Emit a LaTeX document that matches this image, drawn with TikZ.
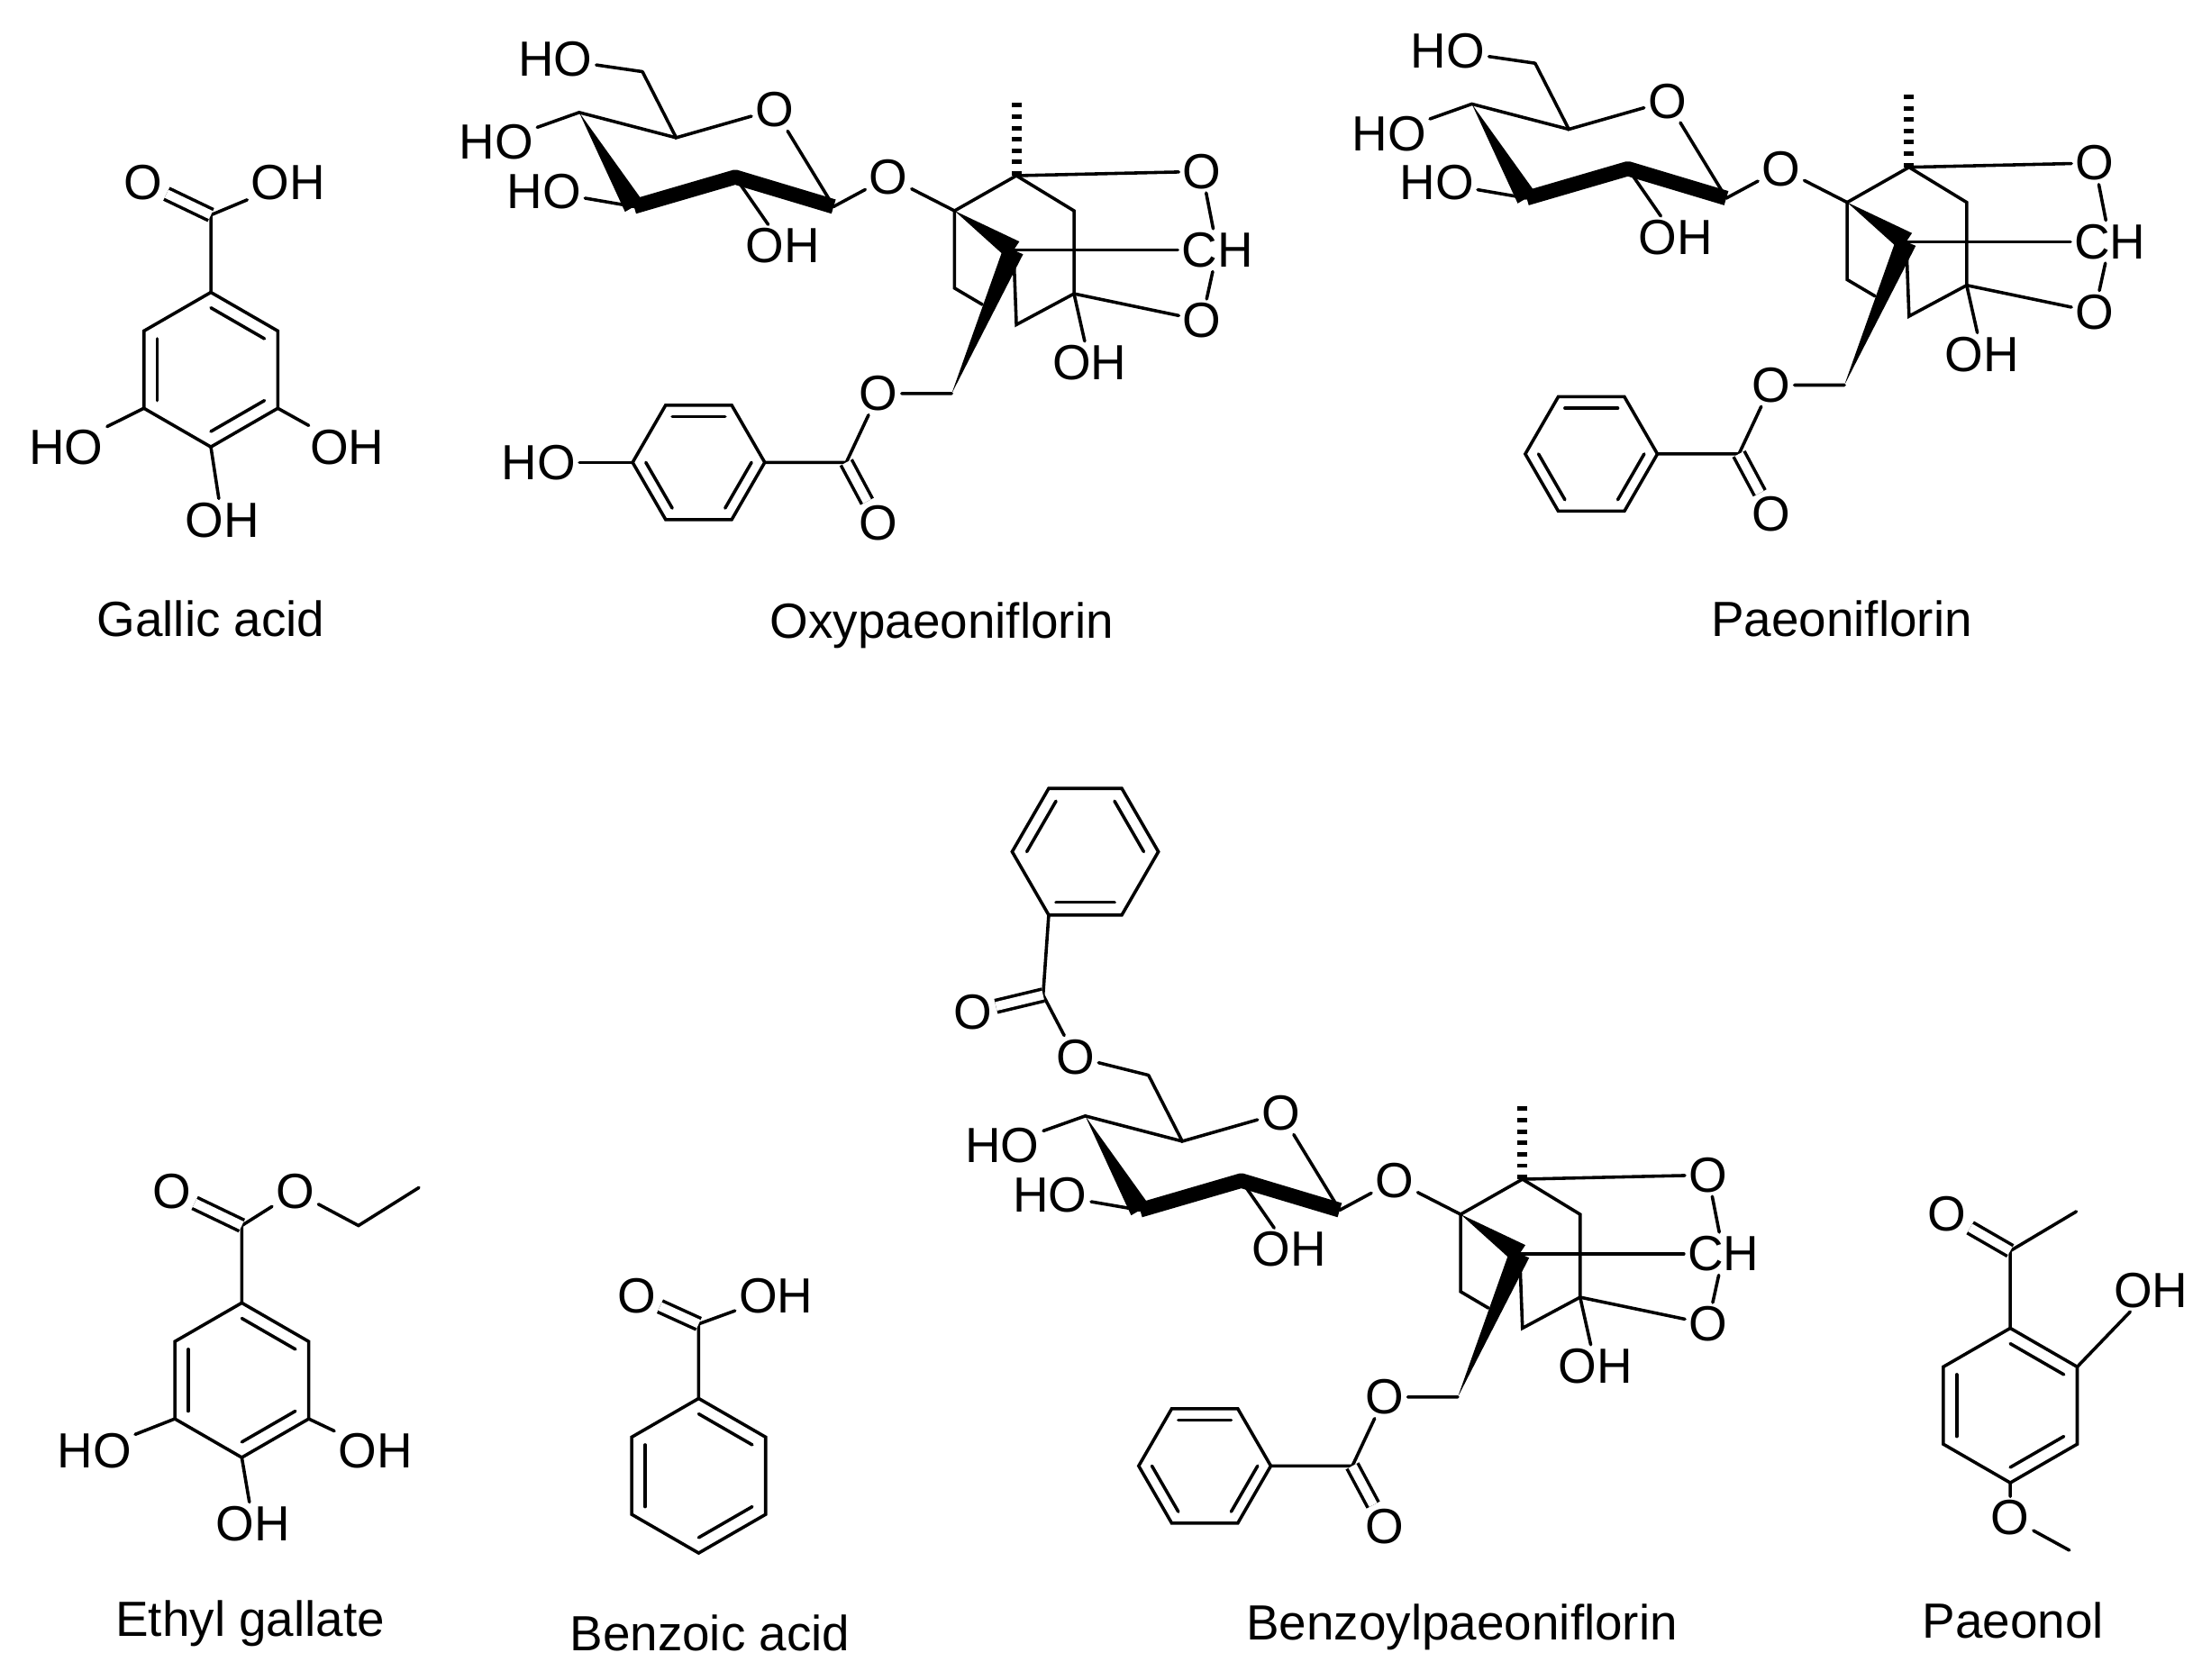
\documentclass[tikz,border=0pt]{standalone}
\usepackage{fontspec}
\setmainfont{Liberation Sans}
\usetikzlibrary{calc}
\newcommand\hexring[5]{%
 \coordinate (#1) at (#2);
 \foreach \k in {1,...,6}{\coordinate (#1\k) at ($(#1)+({#4+60*(\k-1)}:#3)$);}
 \draw[bond] (#11)--(#12)--(#13)--(#14)--(#15)--(#16)--cycle;
 \foreach \a/\b in {#5}{\draw[bond] ($(#1\a)!0.2!(#1)$) -- ($(#1\b)!0.2!(#1)$);}
}
\newcommand\wdg[2]{\fill ($(#1)$) -- ($(#2)!2.1pt!90:(#1)$) -- ($(#2)!2.1pt!-90:(#1)$) -- cycle;}
\newcommand\pcore[2]{%
\begin{scope}[shift={(#2)}]
\coordinate (#1c6) at (457,51);
\coordinate (#1c5) at (481,98);
\node[atm] (#1oR) at (551,78) {O};
\coordinate (#1c4) at (412,80);
\node[atm] (#1hoB) at (353,101) {HO};
\coordinate (#1c3) at (451,147);
\node[atm] (#1hoC) at (387,136) {HO};
\coordinate (#1c2) at (523,126);
\coordinate (#1c1) at (593,147);
\node[atm] (#1ohD) at (557,175) {OH};
\node[atm] (#1oG) at (632,126) {O};
\coordinate (#1k1) at (679,150);
\coordinate (#1km) at (723,125);
\coordinate (#1me) at (723,71);
\node[atm] (#1oT) at (855,122) {O};
\coordinate (#1k2) at (764,150);
\coordinate (#1k3) at (764,209);
\coordinate (#1k4) at (679,205);
\coordinate (#1kb) at (721,178);
\node[atm] (#1ch) at (866,178) {CH};
\coordinate (#1k5) at (723,231);
\node[atm] (#1oB) at (855,228) {O};
\node[atm] (#1ohK) at (775,258) {OH};
\coordinate (#1ch2) at (677,280);
\node[atm] (#1oE) at (625,280) {O};
\coordinate (#1cc) at (602,329);
\node[atm] (#1oC) at (625,372) {O};
\hexring{#1r}{497,329}{47}{0}{1/2,3/4,5/6}
\draw[bond] (#1c6)--(#1c5)--(#1oR)--(#1c1);
\draw[bond] (#1c5)--(#1c4)--(#1hoB);
\draw[bond] (#1c3)--(#1hoC);
\draw[bond] (#1c2)--(#1ohD);
\draw[bond] (#1c1)--(#1oG)--(#1k1);
\wdg{#1c4}{#1c3}
\draw[bold] (#1c3)--(#1c2)--(#1c1);
\draw[bond] (#1k1)--(#1km)--(#1oT);
\draw[hash] (#1km)--(#1me);
\draw[bond] (#1km)--(#1k2)--(#1k3);
\draw[bond] (#1k1)--(#1k4)--($(#1k4)!0.45!(#1k5)$);
\wdg{#1k1}{#1kb}
\draw[bond] (#1kb)--(#1ch);
\draw[bond] (#1kb)--(#1k5)--(#1k3)--(#1oB);
\draw[bond] (#1k3)--(#1ohK);
\wdg{#1ch2}{#1kb}
\draw[bond] (#1oT)--(#1ch)--(#1oB);
\draw[bond] (#1ch2)--(#1oE)--(#1cc)--(#1r1);
\draw[dbl] (#1cc)--(#1oC);
\end{scope}}
\tikzset{
 bond/.style={line width=0.65pt,line cap=round},
 bold/.style={line width=3pt,line join=round},
 hash/.style={line width=2pt,dash pattern=on 0.9pt off 1.4pt},
 dbl/.style={line width=0.65pt,double distance=1.8pt},
 atm/.style={inner sep=0.6pt,font=\fontsize{10}{12}\selectfont},
 ttl/.style={inner sep=0pt,font=\fontsize{10}{12}\selectfont}
}
\begin{document}
\begin{tikzpicture}[x=0.1mm,y=-0.1mm]
\useasboundingbox (0,0) rectangle (1560,1195);
% Gallic acid
\hexring{g}{150,263}{55}{-90}{1/2,3/4,5/6}
\coordinate (gc) at (150,153);
\node[atm] (go1) at (102,130) {O};
\node[atm] (go2) at (205,130) {OH};
\node[atm] (go3) at (47,318) {HO};
\node[atm] (go4) at (247,318) {OH};
\node[atm] (go5) at (158,370) {OH};
\draw[bond] (g1)--(gc)--(go2); \draw[dbl] (gc)--(go1);
\draw[bond] (g5)--(go3); \draw[bond] (g3)--(go4); \draw[bond] (g4)--(go5);
\node[ttl] (t1) at (150,440) {Gallic acid};
% Ethyl gallate
\hexring{e}{172,982}{55}{-90}{1/2,3/4,5/6}
\coordinate (ec) at (172,872);
\node[atm] (eo1) at (122,848) {O};
\node[atm] (eo2) at (210,848) {O};
\coordinate (ee1) at (255,872);
\coordinate (ee2) at (298,845);
\node[atm] (eo3) at (67,1032) {HO};
\node[atm] (eo4) at (267,1032) {OH};
\node[atm] (eo5) at (180,1084) {OH};
\draw[bond] (e1)--(ec)--(eo2)--(ee1)--(ee2); \draw[dbl] (ec)--(eo1);
\draw[bond] (e5)--(eo3); \draw[bond] (e3)--(eo4); \draw[bond] (e4)--(eo5);
\node[ttl] (t2) at (178,1155) {Ethyl gallate};
% Benzoic acid
\hexring{b}{497,1050}{55}{-90}{1/2,3/4,5/6}
\coordinate (bc) at (497,942);
\node[atm] (bo1) at (453,922) {O};
\node[atm] (bo2) at (552,922) {OH};
\draw[bond] (b1)--(bc)--(bo2); \draw[dbl] (bc)--(bo1);
\node[ttl] (t3) at (505,1162) {Benzoic acid};
% Paeonol
\hexring{p}{1430,1000}{55}{-90}{1/2,3/4,5/6}
\coordinate (pc) at (1430,890);
\node[atm] (po1) at (1385,864) {O};
\coordinate (pme) at (1477,862);
\node[atm] (po2) at (1530,918) {OH};
\node[atm] (po3) at (1430,1080) {O};
\coordinate (pme2) at (1472,1103);
\draw[bond] (p1)--(pc)--(pme); \draw[dbl] (pc)--(po1);
\draw[bond] (p2)--(po2); \draw[bond] (p4)--(po3)--(pme2);
\node[ttl] (t4) at (1432,1153) {Paeonol};
% Oxypaeoniflorin
\pcore{A}{0,0}
\node[atm] (AhoA) at (395,42) {HO};
\draw[bond] (AhoA)--(Ac6);
\node[atm] (Aho) at (383,329) {HO};
\draw[bond] (Aho)--(Ar4);
\node[ttl] (t5) at (670,445) {Oxypaeoniflorin};
% Paeoniflorin
\pcore{P}{635,-6}
\node[atm] (PhoA) at (1030,36) {HO};
\draw[bond] (PhoA)--(Pc6);
\node[ttl] (t6) at (1310,440) {Paeoniflorin};
% Benzoylpaeoniflorin
\pcore{Z}{360,714}
\node[atm] (Zo6) at (765,752) {O};
\coordinate (Zbc) at (742,708);
\node[atm] (Zo7) at (692,720) {O};
\hexring{Zq}{772,606}{52}{120}{2/3,4/5,6/1}
\draw[bond] (Zc6)--(Zo6)--(Zbc)--(Zq1); \draw[dbl] (Zbc)--(Zo7);
\node[ttl] (t7) at (1040,1158) {Benzoylpaeoniflorin};
\end{tikzpicture}
\end{document}
